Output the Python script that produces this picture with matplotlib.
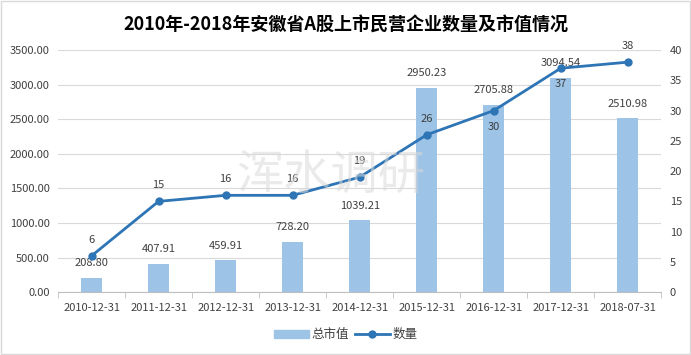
import numpy as np
import matplotlib.pyplot as plt
from matplotlib.patches import Rectangle

plt.rcParams['font.family'] = ['Noto Sans CJK SC', 'DejaVu Sans']

# 数据
dates = ['2010-12-31', '2011-12-31', '2012-12-31', '2013-12-31', '2014-12-31',
         '2015-12-31', '2016-12-31', '2017-12-31', '2018-07-31']
market_value = [208.80, 407.91, 459.91, 728.20, 1039.21, 2950.23, 2705.88, 3094.54, 2510.98]
counts = [6, 15, 16, 16, 19, 26, 30, 37, 38]

bar_color = '#9DC3E6'
line_color = '#2E75B6'
text_color = '#404040'

fig = plt.figure(figsize=(6.91, 3.55), dpi=100)
ax = fig.add_axes([0.084, 0.177, 0.873, 0.682])
ax2 = ax.twinx()

x = np.arange(len(dates))
ax.bar(x, market_value, width=0.32, color=bar_color, zorder=2)
ax.set_ylim(0, 3500)
ax.set_yticks(np.arange(0, 3501, 500))
ax.set_yticklabels([f'{v:.2f}' for v in np.arange(0, 3501, 500)])
ax.set_xlim(-0.5, len(dates) - 0.5)
ax.set_xticks(x)
ax.set_xticklabels(dates)
ax.grid(axis='y', color='#D9D9D9', linewidth=0.8, zorder=0)
ax.set_axisbelow(True)

for sp in ['top', 'left', 'right']:
    ax.spines[sp].set_visible(False)
    ax2.spines[sp].set_visible(False)
ax.spines['bottom'].set_color('#BFBFBF')
ax2.spines['bottom'].set_visible(False)

ax.tick_params(axis='y', length=0, labelsize=8, labelcolor=text_color, pad=6)
ax.tick_params(axis='x', labelsize=8, labelcolor=text_color, pad=8)
# 类别之间的刻度线
ax.set_xticks(np.arange(-0.5, len(dates), 1), minor=True)
ax.tick_params(axis='x', which='major', length=0)
ax.tick_params(axis='x', which='minor', length=4, color='#BFBFBF')

ax2.plot(x, counts, color=line_color, linewidth=2, marker='o', markersize=5, zorder=3)
ax2.set_ylim(0, 40)
ax2.set_yticks(np.arange(0, 41, 5))
ax2.tick_params(axis='y', length=0, labelsize=8, labelcolor=text_color, pad=6)

# 柱子标签
for i, v in enumerate(market_value):
    ax.annotate(f'{v:.2f}', (x[i], v), xytext=(0, 7), textcoords='offset points',
                ha='center', va='bottom', fontsize=8, color=text_color, zorder=5)

# 折线标签
line_offsets = [8, 8, 8, 8, 8, 8, -8, -8, 8]
for i, c in enumerate(counts):
    va = 'bottom' if line_offsets[i] > 0 else 'top'
    ax2.annotate(str(c), (x[i], c), xytext=(0, line_offsets[i]), textcoords='offset points',
                 ha='center', va=va, fontsize=8, color=text_color, zorder=5)

# 水印
fig.text(0.478, 0.505, '浑水调研', fontsize=34, color='#D9D9D9', alpha=0.55,
         ha='center', va='center', zorder=0)

fig.suptitle('2010年-2018年安徽省A股上市民营企业数量及市值情况', y=0.958,
             fontsize=13, fontweight='bold', color='black')

# 图例
h1 = plt.Rectangle((0, 0), 1, 1, color=bar_color)
h2, = ax2.plot([], [], color=line_color, linewidth=2, marker='o', markersize=5)
fig.legend([h1, h2], ['总市值', '数量'], loc='center', bbox_to_anchor=(0.5, 0.057),
           ncol=2, frameon=False, fontsize=9, handlelength=2.8, columnspacing=0.5,
           handletextpad=0.2, labelcolor=text_color)

fig.patches.append(Rectangle((0.002, 0.003), 0.996, 0.994, transform=fig.transFigure,
                             fill=False, edgecolor='#D9D9D9', linewidth=1))

fig.savefig('out.png', dpi=100)
